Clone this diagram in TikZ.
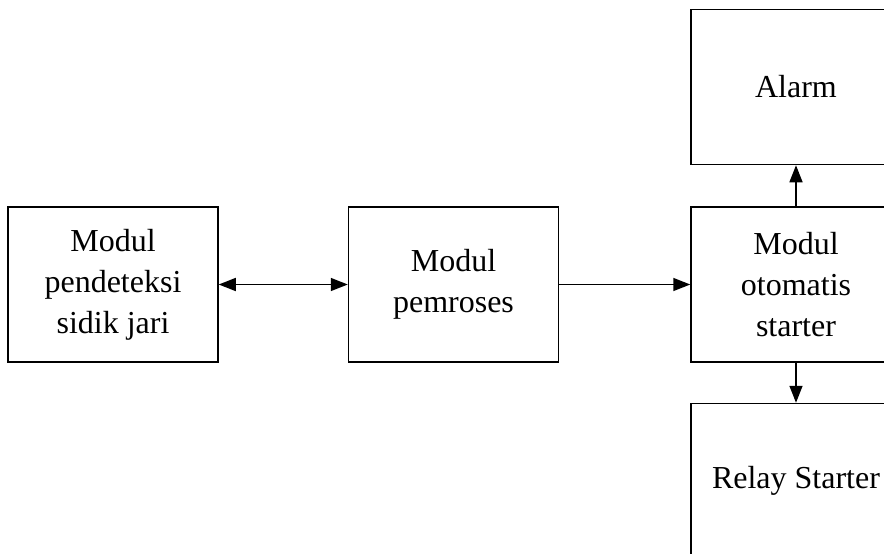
\documentclass[tikz,border=0pt]{standalone}
\usepackage{fontspec}
\setmainfont{Liberation Serif}
\usetikzlibrary{positioning,arrows.meta}

\begin{document}
\begin{tikzpicture}[
    x=1pt, y=-1pt,
    line width=1.5pt,
    node distance=129pt,
    >={Triangle[length=17pt,width=13pt]},
    every node/.style={rectangle, draw, minimum width=210pt, minimum height=155pt,
        align=center, font=\fontsize{32}{41}\selectfont}
]
    \useasboundingbox (0,0) rectangle (884,554);
    \clip (0,0) rectangle (884,554);

    \node (detektor) at (113,284.5) {Modul\\pendeteksi\\sidik jari};
    \node (proses) [right=of detektor] {Modul\\pemroses};
    \node (otomatis) [right=131pt of proses] {Modul\\otomatis\\starter};
    \node (alarm) [above=41pt of otomatis] {Alarm};
    \node (relay) [below=40pt of otomatis] {Relay Starter};

    \draw[<->] (detektor) -- (proses);
    \draw[->] (proses) -- (otomatis);
    \draw[->] (otomatis) -- (alarm);
    \draw[->] (otomatis) -- (relay);
\end{tikzpicture}
\end{document}
